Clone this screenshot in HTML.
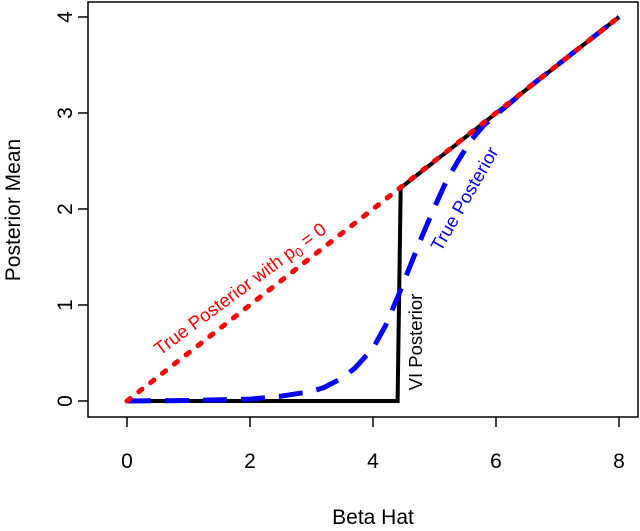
<!DOCTYPE html>
<html><head><meta charset="utf-8"><style>
html,body{margin:0;padding:0;background:#fff}
text{font-family:"Liberation Sans",Arial,sans-serif}
</style></head><body>
<svg id="chart" width="640" height="526" viewBox="0 0 640 526" xmlns="http://www.w3.org/2000/svg">
<rect x="88" y="2" width="550" height="415" fill="none" stroke="#000" stroke-width="1.5"/>
<g id="axes"></g>
<g id="series"></g>
<text x="373" y="524" font-size="21" text-anchor="middle">Beta Hat</text>
<text transform="translate(20,210) rotate(-90)" font-size="21" text-anchor="middle">Posterior Mean</text>
<text transform="translate(160,356) rotate(-36.5)" font-size="18.5" fill="#f00" text-anchor="start">True Posterior with p<tspan font-size="13" dy="4">0</tspan><tspan dy="-4"> = 0</tspan></text>
<text transform="translate(470,202) rotate(-60)" font-size="18.5" fill="#00f" text-anchor="middle">True Posterior</text>
<text transform="translate(422,342) rotate(-90)" font-size="18.5" fill="#000" text-anchor="middle">VI Posterior</text>
</svg>
<script>
const xTicks=[0,2,4,6,8];
const yTicks=[0,1,2,3,4];
const redX=[0,8];
const redY=[0,4];
const viX=[0,4.40,4.45,8];
const viY=[0,0,2.22,4];
const trueX=[0,1,2,2.5,3,3.2,3.5,3.7,4,4.2,4.4,4.6,4.8,5.0,5.2,5.4,5.6,5.8,6,6.5,7,8];
const trueY=[0,0.005,0.02,0.05,0.1,0.14,0.24,0.34,0.55,0.78,1.08,1.4,1.72,2.02,2.3,2.52,2.72,2.87,2.98,3.25,3.5,4];
const sx=v=>127+v*61.5, sy=v=>401-v*96;
const NS="http://www.w3.org/2000/svg";
const axes=document.getElementById('axes'), series=document.getElementById('series');
function mk(tag,attrs,parent){const e=document.createElementNS(NS,tag);for(const k in attrs)e.setAttribute(k,attrs[k]);parent.appendChild(e);return e;}
xTicks.forEach(t=>{
  const l=mk('line',{x1:sx(t),x2:sx(t),y1:417,y2:427,stroke:'#000','stroke-width':1.5},axes);
  
  
  const tx=mk('text',{x:sx(t),y:468,'font-size':21,'text-anchor':'middle'},axes);tx.textContent=t;
  
  
});
yTicks.forEach(t=>{
  const l=mk('line',{x1:78,x2:88,y1:sy(t),y2:sy(t),stroke:'#000','stroke-width':1.5},axes);
  
  
  const tx=mk('text',{transform:`translate(72,${sy(t)}) rotate(-90)`,'font-size':21,'text-anchor':'middle'},axes);tx.textContent=t;
  
  
});
function pts(xs,ys){return xs.map((x,i)=>sx(x).toFixed(1)+','+sy(ys[i]).toFixed(1)).join(' ');}
const vi=mk('polyline',{points:pts(viX,viY),fill:'none',stroke:'#000','stroke-width':4},series);


const tp=mk('polyline',{points:pts(trueX,trueY),fill:'none',stroke:'#00f','stroke-width':5,'stroke-dasharray':'24 14','stroke-linejoin':'round'},series);


const rd=mk('polyline',{points:pts(redX,redY),fill:'none',stroke:'#f00','stroke-width':5,'stroke-dasharray':'4 11','stroke-linecap':'round'},series);


</script>
</body></html>
